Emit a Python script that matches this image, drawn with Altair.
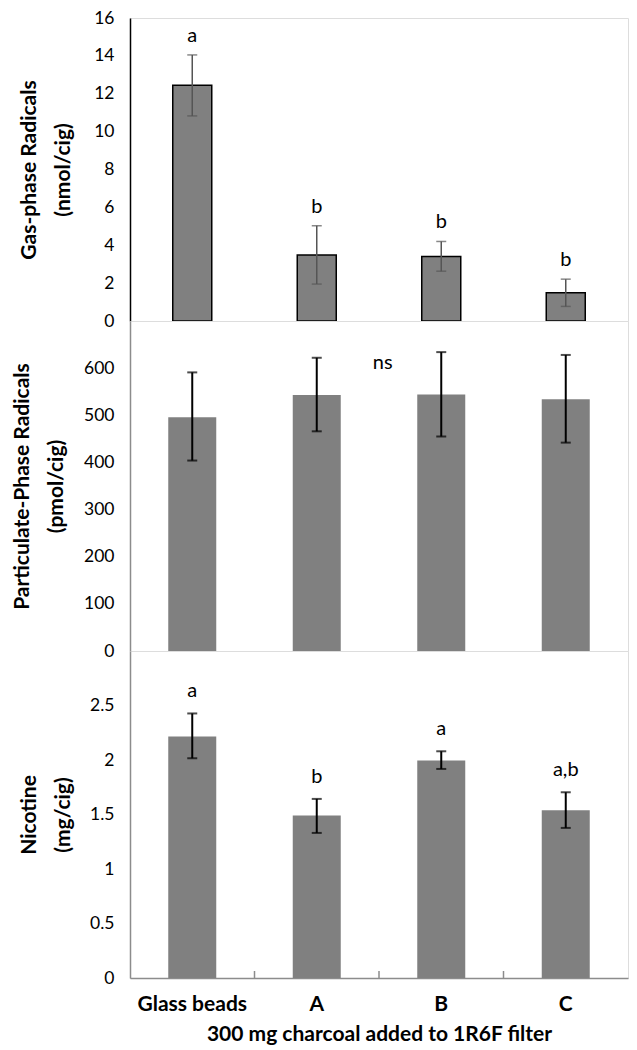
import altair as alt
import pandas as pd

# ---- data ----
cats = ["Glass beads", "A", "B", "C"]

gas_mean = [12.45, 3.48, 3.41, 1.49]
gas_lo = [10.83, 1.95, 2.63, 0.77]
gas_hi = [14.05, 5.03, 4.20, 2.21]
gas_letters = ["a", "b", "b", "b"]

part_mean = [496, 543, 544, 534]
part_lo = [404, 466, 455, 442]
part_hi = [591, 622, 634, 628]
part_letters = ["", "", "", ""]
part_note = "ns"
part_note_value = 610

nic_mean = [2.215, 1.49, 1.995, 1.539]
nic_lo = [2.016, 1.331, 1.918, 1.377]
nic_hi = [2.427, 1.643, 2.08, 1.704]
nic_letters = ["a", "b", "a", "a,b"]

gas_ticks = [0, 2, 4, 6, 8, 10, 12, 14, 16]
part_ticks = [0, 100, 200, 300, 400, 500, 600]
nic_ticks = [0, 0.5, 1, 1.5, 2, 2.5]

FONT = "Lato"
BAR = "#808080"
AXGRAY = "#8c8c8c"
W = 498


def panel(mean, lo, hi, letters, domain, ticks, title, height, bar_size,
          bar_stroke, err_color, err_width, title_pad, letter_dy, ydomain_color,
          bottom=False, label_expr=None, note=None):
    df = pd.DataFrame({"cat": cats, "mean": mean, "lo": lo, "hi": hi, "letter": letters})
    if bottom:
        xaxis = alt.Axis(title="300 mg charcoal added to  1R6F filter", labelAngle=0,
                         labelFontSize=21, labelFontWeight="bold", labelFont=FONT,
                         labelColor="black", labelPadding=15, ticks=False,
                         domainColor=AXGRAY, domainWidth=1.5, labelLineHeight=20,
                         titleFontSize=21, titleFontWeight="bold", titleFont=FONT,
                         titleColor="black", titlePadding=9)
    else:
        xaxis = None
    xs = alt.Scale(domain=cats, paddingInner=0, paddingOuter=0)
    x = alt.X("cat:N", scale=xs, axis=xaxis)
    axis_kw = dict(values=ticks, grid=False, ticks=False, domainColor=ydomain_color,
                   domainWidth=1.5, labelFontSize=17.5, labelFont=FONT, labelColor="black",
                   labelPadding=16, labelOverlap=False, labelFlush=False,
                   labelLineHeight=18,
                   title=title, titleFontSize=21, titleFontWeight="bold",
                   titleFont=FONT, titleColor="black", titlePadding=title_pad,
                   titleLineHeight=34)
    if label_expr:
        axis_kw["labelExpr"] = label_expr
    yaxis = alt.Axis(**axis_kw)
    ys = alt.Scale(domain=domain, nice=False, zero=True)

    def Y(f):
        return alt.Y(f, scale=ys, axis=yaxis)

    base = alt.Chart(df)
    bar_kw = dict(size=bar_size, color=BAR)
    if bar_stroke:
        bar_kw.update(stroke="black", strokeWidth=1.5)
    bars = base.mark_bar(**bar_kw).encode(x=x, y=Y("mean:Q"))
    rule = base.mark_rule(color=err_color, strokeWidth=err_width).encode(
        x=x, y=Y("lo:Q"), y2="hi:Q")
    cap_lo = base.mark_tick(color=err_color, size=10, thickness=err_width,
                            orient="horizontal").encode(x=x, y=Y("lo:Q"))
    cap_hi = base.mark_tick(color=err_color, size=10, thickness=err_width,
                            orient="horizontal").encode(x=x, y=Y("hi:Q"))
    txt = base.mark_text(dy=letter_dy, baseline="bottom", fontSize=20, font=FONT,
                         color="black").encode(x=x, y=Y("hi:Q"), text="letter:N")
    layers = [bars, rule, cap_lo, cap_hi, txt]
    if note is not None:
        ndf = pd.DataFrame({"cat": [note[0]], "v": [note[1]], "t": [note[2]]})
        layers.append(alt.Chart(ndf).mark_text(fontSize=20, font=FONT, color="black",
                                               dx=66).encode(x=x, y=Y("v:Q"), text="t:N"))
    if bottom:
        tdf = pd.DataFrame({"cat": cats[1:]})
        tk = alt.Chart(tdf).mark_rule(color=AXGRAY, strokeWidth=1.5).encode(
            x=alt.X("cat:N", scale=xs, bandPosition=0, axis=xaxis),
            y=alt.value(height - 7), y2=alt.value(height))
        layers.append(tk)
    return alt.layer(*layers).properties(width=W, height=height)


p1 = panel(gas_mean, gas_lo, gas_hi, gas_letters, [0, 16], gas_ticks,
           ["Gas-phase Radicals", "(nmol/cig)"], 303, 39, True, "#555555", 1.5,
           20, -9, "black")

p2 = panel(part_mean, part_lo, part_hi, part_letters, [0, 700], part_ticks,
           ["Particulate-Phase Radicals", "(pmol/cig)"], 330, 48, False, "black", 2,
           17, -8, AXGRAY, note=(cats[1], part_note_value, part_note))

p3 = panel(nic_mean, nic_lo, nic_hi, nic_letters, [0, 3], nic_ticks,
           ["Nicotine", "(mg/cig)"], 327, 48, False, "black", 2,
           16, -12, AXGRAY, bottom=True, label_expr="datum.value + ''")

chart = alt.vconcat(p1, p2, p3, spacing=0, bounds="flush").configure_view(
    stroke="black", strokeWidth=1.5).configure(
    padding={"left": 3, "top": 0, "right": 0, "bottom": 0}, background="white")

chart.save("out.html", embed_options={"renderer": "svg", "actions": False})
